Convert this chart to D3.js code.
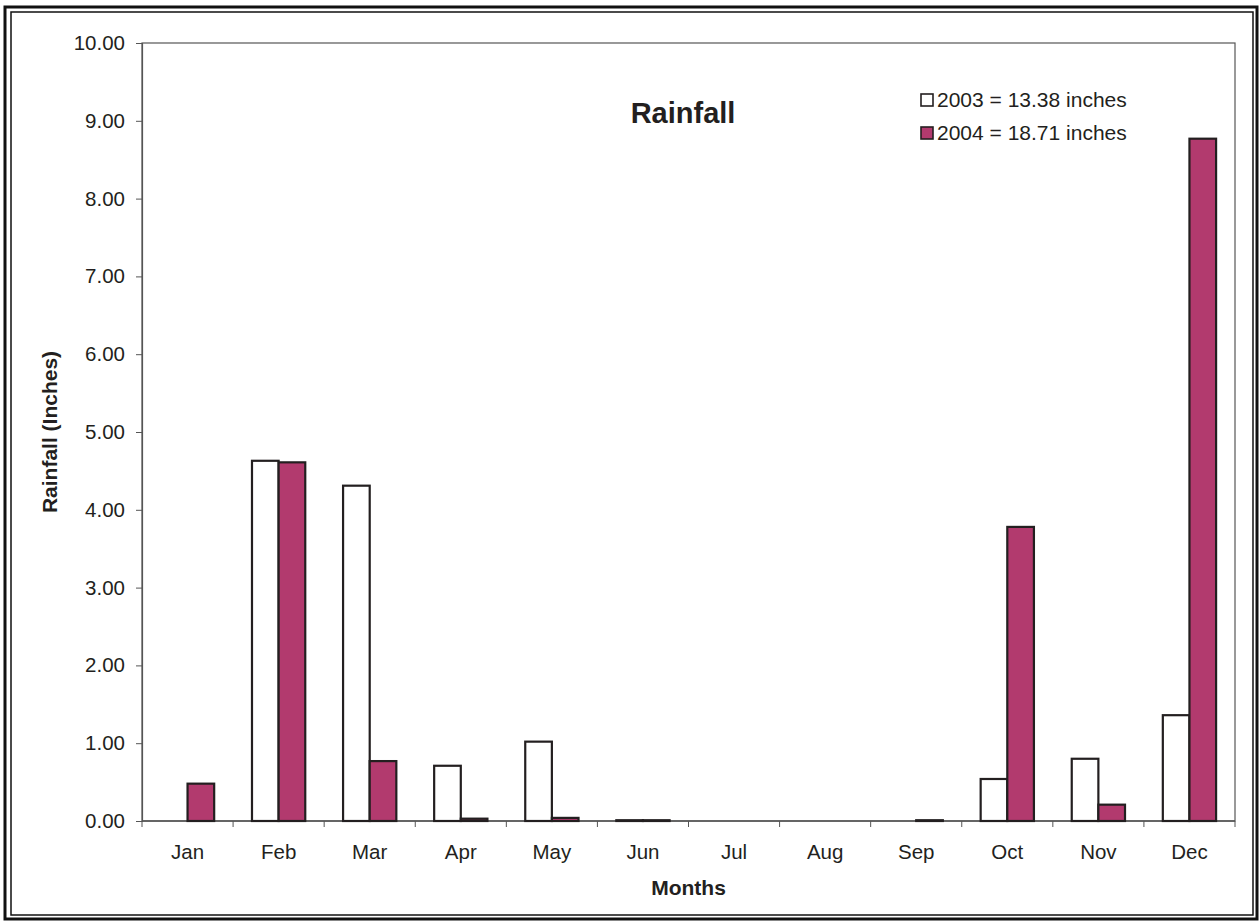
<!DOCTYPE html>
<html>
<head>
<meta charset="utf-8">
<script src="https://cdn.jsdelivr.net/npm/d3@7"></script>
<style>
  body { margin: 0; background: #fff; }
  svg text { font-family: "Liberation Sans", Arial, sans-serif; fill: #231f20; }
</style>
</head>
<body>
<svg id="chart" width="1260" height="923"></svg>
<script>
// chart data
const months = ["Jan", "Feb", "Mar", "Apr", "May", "Jun", "Jul", "Aug", "Sep", "Oct", "Nov", "Dec"];
const rain2003 = [0, 4.63, 4.31, 0.71, 1.02, 0.01, 0, 0, 0, 0.54, 0.80, 1.36];
const rain2004 = [0.48, 4.61, 0.77, 0.03, 0.04, 0.01, 0, 0, 0.01, 3.78, 0.21, 8.77];
const seriesNames = ["2003 = 13.38 inches", "2004 = 18.71 inches"];
const yTicks = [0, 1, 2, 3, 4, 5, 6, 7, 8, 9, 10];

const svg = d3.select("#chart");
const margin = {left: 142, right: 1235, top: 43, bottom: 821};
const colors = ["#ffffff", "#b23a6e"];

// outer double frame
svg.append("rect").attr("x", 5).attr("y", 7).attr("width", 1252).attr("height", 912)
  .attr("fill", "none").attr("stroke", "#111").attr("stroke-width", 3);
svg.append("rect").attr("x", 11).attr("y", 12).attr("width", 1242).attr("height", 903)
  .attr("fill", "none").attr("stroke", "#111").attr("stroke-width", 1.5);

const x = d3.scaleBand().domain(months).range([margin.left, margin.right]);
const xs = d3.scaleBand().domain([0, 1]).range([0, x.bandwidth()]).paddingInner(0).paddingOuter(0.71);
const y = d3.scaleLinear().domain([0, 10]).range([margin.bottom, margin.top]);

// plot area border
svg.append("rect")
  .attr("x", margin.left).attr("y", margin.top)
  .attr("width", margin.right - margin.left).attr("height", margin.bottom - margin.top)
  .attr("fill", "none").attr("stroke", "#555").attr("stroke-width", 1.2);

// y axis
const yAxis = svg.append("g")
  .attr("transform", `translate(${margin.left},0)`)
  .call(d3.axisLeft(y).tickValues(yTicks).tickFormat(d3.format(".2f")).tickSize(6).tickPadding(11));
yAxis.select(".domain").attr("stroke", "#555").attr("stroke-width", 1.2);
yAxis.selectAll(".tick line").attr("stroke", "#555");
yAxis.selectAll("text").attr("font-size", 20.5).style("fill", "#231f20");

// x axis, ticks at band edges
const xAxis = svg.append("g").attr("transform", `translate(0,${margin.bottom})`);
xAxis.append("line").attr("x1", margin.left).attr("x2", margin.right)
  .attr("stroke", "#555").attr("stroke-width", 1.5);
xAxis.selectAll("line.tk")
  .data(months.concat(["end"]))
  .join("line")
  .attr("class", "tk")
  .attr("x1", (d, i) => margin.left + i * x.step())
  .attr("x2", (d, i) => margin.left + i * x.step())
  .attr("y1", 0).attr("y2", 6)
  .attr("stroke", "#555");
xAxis.selectAll("text")
  .data(months)
  .join("text")
  .attr("x", d => x(d) + x.bandwidth() / 2)
  .attr("y", 38)
  .attr("text-anchor", "middle")
  .attr("font-size", 20.5)
  .text(d => d);

// bars
const series = [rain2003, rain2004];
series.forEach((vals, si) => {
  svg.append("g").selectAll("rect")
    .data(vals.map((v, i) => ({month: months[i], v})).filter(d => d.v > 0))
    .join("rect")
    .attr("x", d => x(d.month) + xs(si))
    .attr("y", d => y(d.v))
    .attr("width", xs.bandwidth())
    .attr("height", d => y(0) - y(d.v))
    .attr("fill", colors[si])
    .attr("stroke", "#231f20")
    .attr("stroke-width", 2.2);
});

// title
svg.append("text").attr("x", 683).attr("y", 123)
  .attr("text-anchor", "middle").attr("font-size", 29).attr("font-weight", "bold")
  .text("Rainfall");

// legend
const legend = svg.append("g").attr("transform", "translate(920,93)");
seriesNames.forEach((name, i) => {
  const g = legend.append("g").attr("transform", `translate(0,${i * 33})`);
  g.append("rect").attr("x", 1).attr("y", 1).attr("width", 12).attr("height", 12)
    .attr("fill", colors[i]).attr("stroke", "#231f20").attr("stroke-width", 1.6);
  g.append("text").attr("x", 17).attr("y", 14).attr("font-size", 21).text(name);
});

// axis titles
svg.append("text").attr("x", (margin.left + margin.right) / 2).attr("y", 895)
  .attr("text-anchor", "middle").attr("font-size", 21).attr("font-weight", "bold")
  .text("Months");
svg.append("text")
  .attr("transform", `translate(57,432) rotate(-90)`)
  .attr("text-anchor", "middle").attr("font-size", 21).attr("font-weight", "bold")
  .text("Rainfall (Inches)");
</script>
</body>
</html>
